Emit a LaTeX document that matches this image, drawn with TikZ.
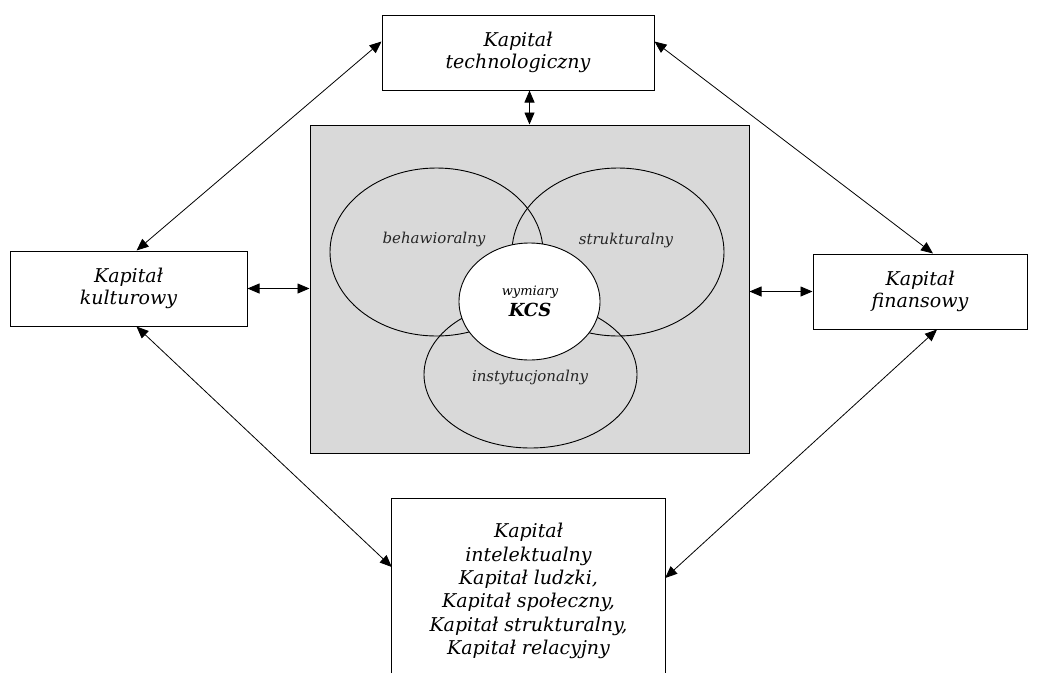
\documentclass[tikz,border=0pt]{standalone}
\usepackage{fontspec}
\setmainfont{DejaVu Serif}
\usetikzlibrary{arrows.meta,shapes.geometric}
\begin{document}
\begin{tikzpicture}[x=1pt,y=-1pt,
  capbox/.style={draw=black,line width=1pt,fill=white,inner sep=0pt,
    align=center,font=\fontsize{19}{22}\selectfont\itshape},
  ring/.style={ellipse,draw=black,line width=0.9pt,inner sep=0pt},
  dimlabel/.style={inner sep=0pt,font=\fontsize{15}{17}\selectfont\itshape,text=black!85},
  link/.style={{Triangle[length=12pt,width=10pt]}-{Triangle[length=12pt,width=10pt]},line width=0.8pt,draw=black}]
\useasboundingbox (0,0) rectangle (1037,673);

% central panel with the three overlapping dimensions
\node[draw=black,line width=1pt,fill=black!15,minimum width=439pt,minimum height=328pt,inner sep=0pt]
  (panel) at (529.5,289) {};
\node[ring,minimum width=213pt,minimum height=168pt] (beh) at (436.5,252) {};
\node[ring,minimum width=212pt,minimum height=168pt] (str) at (618,252) {};
\node[ring,minimum width=213pt,minimum height=147pt] (ins) at (530.5,374.5) {};
\node[ring,fill=white,minimum width=141pt,minimum height=117pt] (kcs) at (529.5,301.5) {};
\node[dimlabel] (lbeh) at (434,239) {behawioralny};
\node[dimlabel] (lstr) at (626,240) {strukturalny};
\node[dimlabel] (lins) at (530,377) {instytucjonalny};
\node[inner sep=0pt,align=center,font=\fontsize{13}{21}\selectfont\itshape] (lkcs) at (530,301)
  {wymiary\\{\fontsize{18}{18}\selectfont\bfseries KCS}};

% surrounding forms of capital
\node[capbox,minimum width=272pt,minimum height=75pt] (tech) at (518,52.5) {Kapitał\\technologiczny};
\node[capbox,minimum width=237pt,minimum height=75pt] (kult) at (128.5,288.5) {Kapitał\\kulturowy};
\node[capbox,minimum width=214pt,minimum height=75pt] (fin) at (920,291.5) {Kapitał\\finansowy};

% intellectual capital box, open at the lower page edge
\node[inner sep=0pt,minimum width=273pt,minimum height=174pt] (intel) at (528.5,586) {};
\draw[draw=black,line width=1pt] (intel.south west) -- (intel.north west) -- (intel.north east) -- (intel.south east);
\node[inner sep=0pt,align=center,font=\fontsize{19}{23.4}\selectfont\itshape] (inteltext)
  at ([yshift=-5pt]intel.center)
  {Kapitał\\intelektualny\\Kapitał ludzki,\\Kapitał społeczny,\\Kapitał strukturalny,\\Kapitał relacyjny};

% links
\draw[link] (tech.south -| panel.north) -- (panel.north);
\draw[link] (kult.east) -- (kult.east -| panel.west);
\draw[link] (panel.east |- fin.west) -- (fin.west);
\draw[link] ([yshift=11pt]tech.west) -- ([xshift=8pt]kult.north);
\draw[link] ([yshift=11pt]tech.east) -- ([xshift=13pt]fin.north);
\draw[link] ([xshift=8pt]kult.south) -- ([yshift=19pt]intel.west);
\draw[link] ([xshift=17pt]fin.south) -- ([yshift=8pt]intel.east);
\end{tikzpicture}
\end{document}
